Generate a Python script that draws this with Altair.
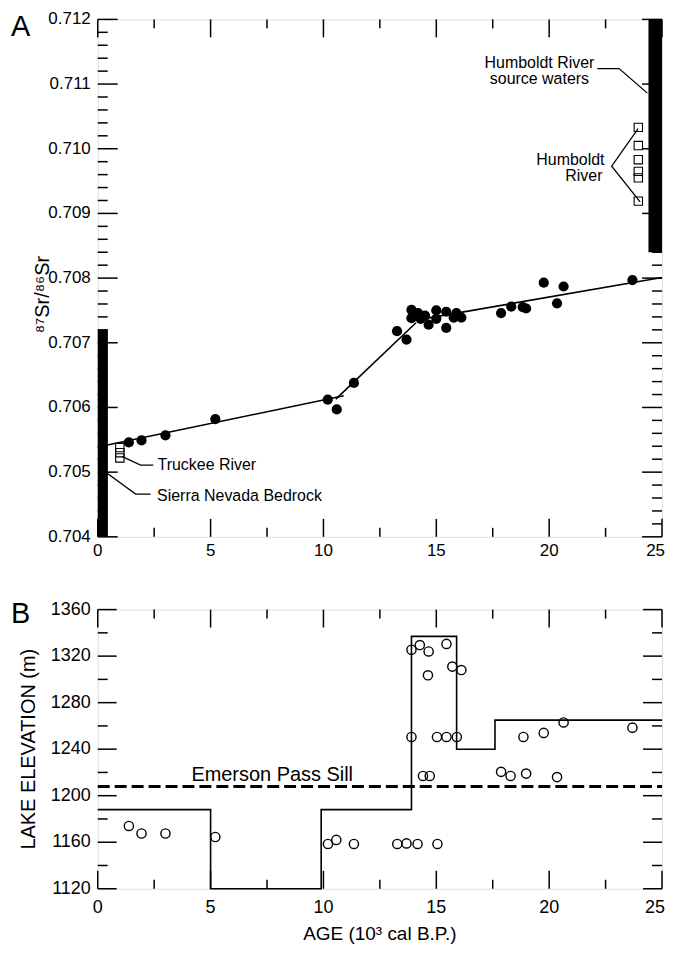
import altair as alt
import pandas as pd

FONT = "Liberation Sans"

# ---------------- Panel A: 87Sr/86Sr vs age ----------------
sr_age = [1.38, 1.94, 3.00, 5.21, 10.19, 10.59, 11.35, 13.26, 13.68,
          13.90, 13.90, 14.19, 14.30, 14.50, 14.66, 15.00, 15.00, 15.44, 15.44,
          15.77, 15.89, 16.11, 17.87, 18.32, 18.83, 18.98, 19.76, 20.35, 20.64, 23.69]
sr_ratio = [0.70546, 0.70549, 0.70557, 0.70582, 0.70612, 0.70597, 0.70638, 0.70718, 0.70705,
            0.70751, 0.70738, 0.70746, 0.70737, 0.70742, 0.70728, 0.70750, 0.70737, 0.70748, 0.70723,
            0.70739, 0.70746, 0.70739, 0.70746, 0.70756, 0.70755, 0.70753, 0.70793, 0.70761, 0.70787, 0.70797]

truckee_age = [0.98, 0.98, 0.98]
truckee_ratio = [0.70538, 0.70530, 0.70522]

humboldt_age = [23.95, 23.95, 23.95, 23.95, 23.95, 23.95]
humboldt_ratio = [0.71033, 0.71005, 0.70983, 0.70965, 0.70955, 0.70919]

seg_id = ["a", "a", "b", "b", "c", "c"]
seg_age = [0.0, 10.9, 10.55, 14.1, 14.1, 25.0]
seg_ratio = [0.70539, 0.70618, 0.70613, 0.70731, 0.70735, 0.70801]

range_name = ["Sierra Nevada Bedrock", "Humboldt River source waters"]
range_x0 = [0.0, 24.4]
range_x1 = [0.45, 25.0]
range_lo = [0.7040, 0.7084]
range_hi = [0.7072, 0.7120]

# annotation texts (A)
a_left_text = ["Truckee River", "Sierra Nevada Bedrock"]
a_left_x = [2.65, 2.63]
a_left_y = [0.70511, 0.70463]
a_center_text = ["Humboldt River", "source waters", "Humboldt", "River"]
a_center_x = [19.57, 19.57, 20.94, 21.54]
a_center_y = [0.71132, 0.71108, 0.70983, 0.70958]

# leader lines (A)
lead_id = ["t", "t", "t", "s", "s", "s", "h", "h", "h", "v", "v", "v"]
lead_x = [1.09, 1.90, 2.46, 0.43, 1.68, 2.34, 22.13, 23.10, 24.35, 23.94, 22.77, 24.03]
lead_y = [0.70524, 0.70511, 0.70511, 0.70498, 0.70466, 0.70466,
          0.71124, 0.71124, 0.71086, 0.71031, 0.70973, 0.70918]

# ---------------- Panel B: lake elevation ----------------
lake_age = [1.38, 1.94, 3.00, 5.21, 10.20, 10.57, 11.35, 13.27, 13.68, 14.17, 15.05,
            14.41, 14.71, 13.90, 14.27, 14.66, 15.45, 15.71, 16.11, 14.63,
            13.90, 15.03, 15.45, 15.91, 18.86, 19.76, 20.64, 23.69, 17.87, 18.29, 18.98, 20.35]
lake_elev = [1174, 1167.5, 1167.5, 1164.5, 1158.5, 1162, 1158.5, 1158.5, 1159, 1158.5, 1158.5,
             1217, 1217, 1325.5, 1329.5, 1324, 1330.5, 1311, 1308, 1303.5,
             1250.5, 1250.5, 1250.5, 1250.5, 1250.5, 1254, 1263, 1258.5, 1220.5, 1217, 1219, 1216]

step_age = [0, 5.0, 5.0, 9.9, 9.9, 13.9, 13.9, 15.9, 15.9, 17.6, 17.6, 25]
step_elev = [1188, 1188, 1120, 1120, 1188, 1188, 1337, 1337, 1240, 1240, 1265, 1265]

sill_x0 = [0.0]
sill_x1 = [25.0]
sill_elev = [1208]
sill_label = ["Emerson Pass Sill"]
sill_label_x = [7.73]
sill_label_y = [1218]

# ---------------- ticks and tick labels ----------------
x_major = [0, 5, 10, 15, 20, 25]
x_minor = [2.5, 7.5, 12.5, 17.5, 22.5]
ya_major = [0.704, 0.705, 0.706, 0.707, 0.708, 0.709, 0.710, 0.711, 0.712]
ya_minor = [round(0.704 + 0.0002 * i, 4) for i in range(41) if i % 5 != 0]
yb_major = [1120, 1160, 1200, 1240, 1280, 1320, 1360]
yb_minor = [1140, 1180, 1220, 1260, 1300, 1340]

x_labels = ["0", "5", "10", "15", "20", "25"]
ya_labels = ["0.704", "0.705", "0.706", "0.707", "0.708", "0.709", "0.710", "0.711", "0.712"]
yb_labels = ["1120", "1160", "1200", "1240", "1280", "1320", "1360"]

titleA_y = "⁸⁷Sr/⁸⁶Sr"
titleB_y = "LAKE ELEVATION (m)"
titleB_x = "AGE (10³ cal B.P.)"

WA, HA = 566, 519
WB, HB = 566, 280

xsA = alt.Scale(domain=[0, 25], nice=False, zero=False)
ysA = alt.Scale(domain=[0.704, 0.712], nice=False, zero=False)
xsB = alt.Scale(domain=[0, 25], nice=False, zero=False)
ysB = alt.Scale(domain=[1120, 1360], nice=False, zero=False)


def edge_ticks(values, scale, channel, side, length, W, H):
    df = pd.DataFrame({"v": values})
    base = alt.Chart(df).mark_rule(color="black", strokeWidth=1.5)
    if channel == "x":
        enc = {"x": alt.X("v:Q", scale=scale, axis=None)}
        if side == "bottom":
            enc.update(y=alt.value(H), y2=alt.value(H - length))
        else:
            enc.update(y=alt.value(0), y2=alt.value(length))
    else:
        enc = {"y": alt.Y("v:Q", scale=scale, axis=None)}
        if side == "left":
            enc.update(x=alt.value(0), x2=alt.value(length))
        else:
            enc.update(x=alt.value(W), x2=alt.value(W - length))
    return base.encode(**enc)


def all_ticks(xs, ys, yma, ymi, ylen_ma, ylen_mi, W, H):
    out = []
    for side in ("bottom", "top"):
        out.append(edge_ticks(x_major, xs, "x", side, 18, W, H))
        out.append(edge_ticks(x_minor, xs, "x", side, 9, W, H))
    for side in ("left", "right"):
        out.append(edge_ticks(yma, ys, "y", side, ylen_ma, W, H))
        out.append(edge_ticks(ymi, ys, "y", side, ylen_mi, W, H))
    return out


def tick_labels(xs, ys, y_vals, y_labs, fsize, W, H, xpad, ypad):
    """Tick labels as text placed through the scales."""
    dx_main = pd.DataFrame({"v": x_major[:-1], "t": x_labels[:-1]})
    dx_last = pd.DataFrame({"v": x_major[-1:], "t": x_labels[-1:]})
    dy = pd.DataFrame({"v": y_vals, "t": y_labs})
    common = dict(font=FONT, fontSize=fsize, color="black")
    lx = alt.Chart(dx_main).mark_text(align="center", baseline="top", **common).encode(
        x=alt.X("v:Q", scale=xs, axis=None), y=alt.value(H + xpad), text="t:N")
    lx2 = alt.Chart(dx_last).mark_text(align="right", baseline="top", dx=3, **common).encode(
        x=alt.X("v:Q", scale=xs, axis=None), y=alt.value(H + xpad), text="t:N")
    ly = alt.Chart(dy).mark_text(align="right", baseline="middle", **common).encode(
        y=alt.Y("v:Q", scale=ys, axis=None), x=alt.value(-ypad), text="t:N")
    return [lx, lx2, ly]


def free_text(txt, x, y, size, angle=0, align="center", baseline="middle"):
    kw = dict(align=align, baseline=baseline, font=FONT, fontSize=size, color="black")
    if angle:
        kw["angle"] = angle
    return alt.Chart(pd.DataFrame({"t": [txt]})).mark_text(**kw).encode(
        x=alt.value(x), y=alt.value(y), text="t:N")


# ---- Panel A layers ----
df_ranges = pd.DataFrame({"name": range_name, "x0": range_x0, "x1": range_x1,
                          "lo": range_lo, "hi": range_hi})
bars = alt.Chart(df_ranges).mark_rect(color="black").encode(
    x=alt.X("x0:Q", scale=xsA, axis=None), x2="x1:Q",
    y=alt.Y("lo:Q", scale=ysA, axis=None), y2="hi:Q")

df_seg = pd.DataFrame({"seg": seg_id, "age": seg_age, "ratio": seg_ratio})
segs = alt.Chart(df_seg).mark_line(color="black", strokeWidth=1.6).encode(
    x=alt.X("age:Q", scale=xsA, axis=None), y=alt.Y("ratio:Q", scale=ysA, axis=None),
    detail="seg:N")

df_sr = pd.DataFrame({"age": sr_age, "ratio": sr_ratio})
pts = alt.Chart(df_sr).mark_circle(color="black", size=105, opacity=1).encode(
    x=alt.X("age:Q", scale=xsA, axis=None), y=alt.Y("ratio:Q", scale=ysA, axis=None))

df_tr = pd.DataFrame({"age": truckee_age, "ratio": truckee_ratio})
df_hu = pd.DataFrame({"age": humboldt_age, "ratio": humboldt_ratio})
sq_t = alt.Chart(df_tr).mark_point(shape="square", filled=False, color="black",
                                   size=70, strokeWidth=1.1, opacity=1).encode(
    x=alt.X("age:Q", scale=xsA, axis=None), y=alt.Y("ratio:Q", scale=ysA, axis=None))
sq_h = alt.Chart(df_hu).mark_point(shape="square", filled=False, color="black",
                                   size=70, strokeWidth=1.1, opacity=1).encode(
    x=alt.X("age:Q", scale=xsA, axis=None), y=alt.Y("ratio:Q", scale=ysA, axis=None))

df_lead = pd.DataFrame({"id": lead_id, "x": lead_x, "y": lead_y,
                        "i": list(range(len(lead_x)))})
leads = alt.Chart(df_lead).mark_line(color="black", strokeWidth=1.3).encode(
    x=alt.X("x:Q", scale=xsA, axis=None), y=alt.Y("y:Q", scale=ysA, axis=None),
    detail="id:N", order="i:Q")

df_tl = pd.DataFrame({"t": a_left_text, "x": a_left_x, "y": a_left_y})
txt_l = alt.Chart(df_tl).mark_text(align="left", baseline="middle", font=FONT,
                                   fontSize=16, color="black").encode(
    x=alt.X("x:Q", scale=xsA, axis=None), y=alt.Y("y:Q", scale=ysA, axis=None), text="t:N")
df_tc = pd.DataFrame({"t": a_center_text, "x": a_center_x, "y": a_center_y})
txt_c = alt.Chart(df_tc).mark_text(align="center", baseline="middle", font=FONT,
                                   fontSize=16, color="black").encode(
    x=alt.X("x:Q", scale=xsA, axis=None), y=alt.Y("y:Q", scale=ysA, axis=None), text="t:N")

letA = free_text("A", -87, 17, 29, align="left", baseline="alphabetic")
ytA = free_text(titleA_y, -55, 276, 20, angle=270)

panelA = alt.layer(
    bars, segs, pts, sq_t, sq_h, leads, txt_l, txt_c, letA, ytA,
    *tick_labels(xsA, ysA, ya_major, ya_labels, 17, WA, HA, 6, 7),
    *all_ticks(xsA, ysA, ya_major, ya_minor, 20, 10, WA, HA)
).properties(width=WA, height=HA)

# ---- Panel B layers ----
df_step = pd.DataFrame({"age": step_age, "elev": step_elev, "i": list(range(len(step_age)))})
step = alt.Chart(df_step).mark_line(color="black", strokeWidth=1.6).encode(
    x=alt.X("age:Q", scale=xsB, axis=None), y=alt.Y("elev:Q", scale=ysB, axis=None),
    order="i:Q")

df_sill = pd.DataFrame({"x0": sill_x0, "x1": sill_x1, "elev": sill_elev})
sill = alt.Chart(df_sill).mark_rule(color="black", strokeWidth=3, strokeDash=[12, 5]).encode(
    x=alt.X("x0:Q", scale=xsB, axis=None), x2="x1:Q",
    y=alt.Y("elev:Q", scale=ysB, axis=None))

df_lake = pd.DataFrame({"age": lake_age, "elev": lake_elev})
lake = alt.Chart(df_lake).mark_point(shape="circle", filled=False, color="black",
                                     size=85, strokeWidth=1.4, opacity=1).encode(
    x=alt.X("age:Q", scale=xsB, axis=None), y=alt.Y("elev:Q", scale=ysB, axis=None))

df_sl = pd.DataFrame({"t": sill_label, "x": sill_label_x, "y": sill_label_y})
sill_txt = alt.Chart(df_sl).mark_text(align="center", baseline="middle", font=FONT,
                                      fontSize=20, color="black").encode(
    x=alt.X("x:Q", scale=xsB, axis=None), y=alt.Y("y:Q", scale=ysB, axis=None),
    text="t:N")

letB = free_text("B", -87, 13, 29, align="left", baseline="alphabetic")
ytB = free_text(titleB_y, -69, HB / 2, 20, angle=270)
xtB = free_text(titleB_x, WB / 2, HB + 45, 19)

panelB = alt.layer(
    step, sill, lake, sill_txt, letB, ytB, xtB,
    *tick_labels(xsB, ysB, yb_major, yb_labels, 18, WB, HB, 10, 7),
    *all_ticks(xsB, ysB, yb_major, yb_minor, 19, 10, WB, HB)
).properties(width=WB, height=HB)

chart = alt.vconcat(panelA, panelB, spacing=73, bounds="flush").properties(
    padding={"left": 2, "top": 0, "right": 0, "bottom": 0}
).configure_view(stroke="black", strokeWidth=2).configure(background="white")

chart.save("out.html", embed_options={"renderer": "svg", "actions": False})
